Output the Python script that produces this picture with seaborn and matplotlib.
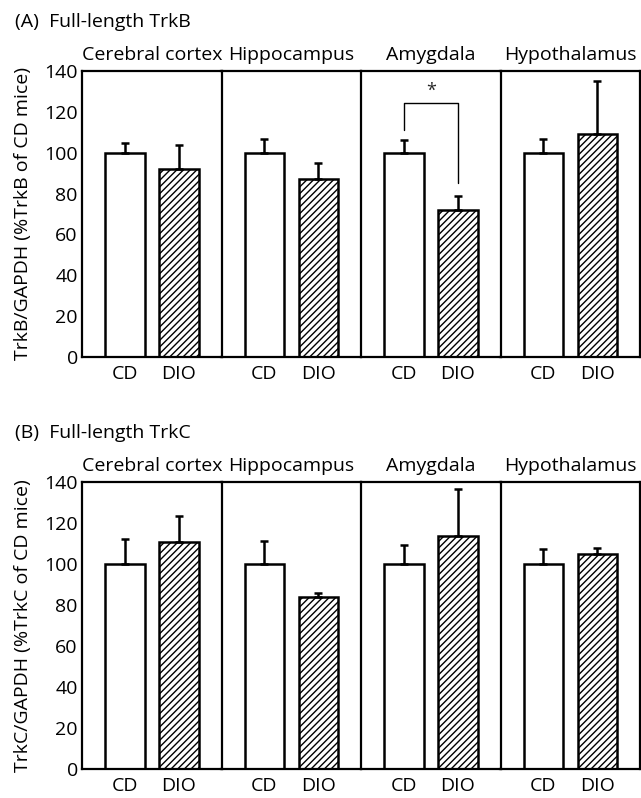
import matplotlib
matplotlib.use("Agg")
import matplotlib.pyplot as plt
import seaborn as sns
import pandas as pd
import numpy as np

sns.set_theme(style="white")
plt.rcParams['font.family'] = ['Open Sans', 'DejaVu Sans']
plt.rcParams['hatch.linewidth'] = 1.0
plt.rcParams['hatch.color'] = 'black'

regions = ["Cerebral cortex", "Hippocampus", "Amygdala", "Hypothalamus"]
groups = ["CD", "DIO"]
yticks = [0, 20, 40, 60, 80, 100, 120, 140]

# Panel A: Full-length TrkB
trkb_cd = [100, 100, 100, 100]
trkb_cd_err = [5, 6.5, 6, 6.5]
trkb_dio = [92, 87, 72, 109]
trkb_dio_err = [12, 8, 7, 26]

# Panel B: Full-length TrkC
trkc_cd = [100, 100, 100, 100]
trkc_cd_err = [12, 11, 9.5, 7.5]
trkc_dio = [110.5, 84, 113.5, 105]
trkc_dio_err = [13, 2, 23, 3]

W, H = 641, 798
fig = plt.figure(figsize=(W / 100, H / 100), dpi=100)

FS = 14
left_px, right_px = 82, 640


def draw_panel(top_px, bottom_px, cd, cd_err, dio, dio_err, letter, title, ylabel, sig=None):
    width_px = right_px - left_px
    sec = width_px / 4
    axes = []
    for i in range(4):
        l = (left_px + i * sec) / W
        b = 1 - bottom_px / H
        h = (bottom_px - top_px) / H
        ax = fig.add_axes([l, b, sec / W, h])
        df = pd.DataFrame({"group": groups, "value": [cd[i], dio[i]]})
        sns.barplot(data=df, x="group", y="value", hue="group",
                    palette={"CD": "white", "DIO": "white"}, legend=False,
                    width=0.74, edgecolor="black", linewidth=1.8,
                    errorbar=None, ax=ax)
        ax.patches[1].set_hatch("/////")
        ax.errorbar([0, 1], [cd[i], dio[i]],
                    yerr=[[0, 0], [cd_err[i], dio_err[i]]],
                    fmt="none", ecolor="black", elinewidth=1.8,
                    capsize=3, capthick=1.8, zorder=5)
        ax.set_xlim(-0.796, 1.787)
        ax.set_ylim(0, 140)
        ax.set_xlabel("")
        ax.set_ylabel("")
        ax.tick_params(axis="both", length=0, labelsize=FS, colors="black")
        ax.tick_params(axis="x", pad=6)
        ax.set_yticks(yticks)
        for s in ["left", "top", "bottom", "right"]:
            ax.spines[s].set_color("black")
            ax.spines[s].set_linewidth(1.6)
            ax.spines[s].set_visible(True)
        if i < 3:
            ax.spines["right"].set_visible(False)
        if i > 0:
            ax.set_yticklabels([])
        else:
            ax.tick_params(axis="y", pad=3)
            ax.set_ylabel(ylabel, fontsize=FS, labelpad=9, color="black")
        ax.set_title(regions[i], fontsize=FS, pad=8, color="black")
        if sig is not None and i == sig:
            y_top = 124.2
            ax.plot([0, 0, 1, 1], [cd[i] + cd_err[i] + 5, y_top, y_top, dio[i] + dio_err[i] + 6],
                    color="black", lw=1.0)
            ax.text(0.5, y_top + 1.5, "*", ha="center", va="bottom", fontsize=FS - 1)
        axes.append(ax)
    fig.text(15 / W, 1 - (top_px - 49) / H, f"({letter})  {title}", fontsize=FS,
             ha="left", va="center", color="black")
    return axes


draw_panel(71, 357, trkb_cd, trkb_cd_err, trkb_dio, trkb_dio_err,
           "A", "Full-length TrkB", "TrkB/GAPDH (%TrkB of CD mice)", sig=2)
draw_panel(482, 769, trkc_cd, trkc_cd_err, trkc_dio, trkc_dio_err,
           "B", "Full-length TrkC", "TrkC/GAPDH (%TrkC of CD mice)")

fig.savefig("out.png", dpi=100)
